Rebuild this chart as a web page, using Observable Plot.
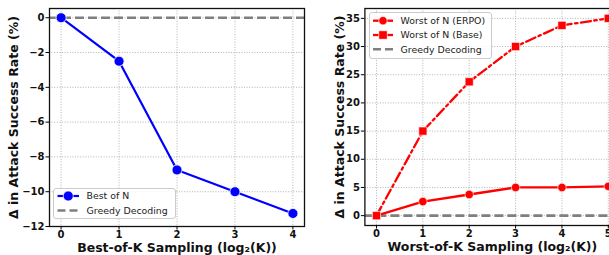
<!DOCTYPE html>
<html>
<head>
<meta charset="utf-8">
<script src="https://cdn.jsdelivr.net/npm/d3@7"></script>
<script src="https://cdn.jsdelivr.net/npm/@observablehq/plot@0.6"></script>
<style>
  html, body { margin: 0; padding: 0; background: #fff; overflow: hidden; }
  #wrap { position: relative; width: 609px; height: 255px; overflow: hidden; font-family: "DejaVu Sans", sans-serif; }
  #wrap > * { position: absolute; top: 0; }
</style>
</head>
<body>
<div id="wrap"></div>
<script>
// ---- data ----
const bestK = [0, 1, 2, 3, 4];
const bestOfN = [0, -2.5, -8.75, -10, -11.25];
const worstK = [0, 1, 2, 3, 4, 5];
const worstERPO = [0, 2.5, 3.75, 5, 5, 5.2];
const worstBase = [0, 15, 23.75, 30, 33.75, 35];
const greedy = 0;
const leftTicksY = [0, -2, -4, -6, -8, -10, -12];
const rightTicksY = [0, 5, 10, 15, 20, 25, 30, 35];
const yLabel = "Δ in Attack Success Rate (%)";
const leftXLabel = "Best-of-K Sampling (log₂(K))";
const rightXLabel = "Worst-of-K Sampling (log₂(K))";
const leftLegend = ["Best of N", "Greedy Decoding"];
const rightLegend = ["Worst of N (ERPO)", "Worst of N (Base)", "Greedy Decoding"];

const BLUE = "#0000ff", RED = "#ff0000", GRAY = "#7f7f7f";
const fmt = d3.format("d");
const wrap = document.getElementById("wrap");

function gridMarks(xt, yt) {
  return [
    Plot.gridX(xt, {stroke: "#a0a0a0", strokeOpacity: 1, strokeWidth: 0.8, strokeDasharray: "1,1.6"}),
    Plot.gridY(yt, {stroke: "#a0a0a0", strokeOpacity: 1, strokeWidth: 0.8, strokeDasharray: "1,1.6"})
  ];
}
function axes(xt, yt) {
  return [
    Plot.axisX(xt, {tickSize: 3.5, tickPadding: 1, fontSize: 10, fontWeight: "bold", fill: "#111", tickFormat: fmt, label: null}),
    Plot.axisY(yt, {tickSize: 3.5, tickPadding: 1.5, fontSize: 10, fontWeight: "bold", fill: "#111", tickFormat: fmt, label: null})
  ];
}
function labels(xl, yl, ydx) {
  return [
    Plot.text([xl], {frameAnchor: "bottom", dy: 21, text: d => d, fontSize: 12.5, fontWeight: "bold", fill: "#111", textAnchor: "middle", lineAnchor: "middle"}),
    Plot.text([yl], {frameAnchor: "left", dx: ydx, rotate: -90, text: d => d, fontSize: 12.5, fontWeight: "bold", fill: "#111", textAnchor: "middle", lineAnchor: "middle"})
  ];
}

// ---- left panel ----
const leftData = bestK.map((k, i) => ({k, v: bestOfN[i]}));
const left = Plot.plot({
  width: 310, height: 255,
  marginLeft: 49, marginRight: 6, marginTop: 8, marginBottom: 29,
  style: {fontFamily: "DejaVu Sans, sans-serif", background: "transparent", overflow: "visible"},
  x: {domain: [-0.2, 4.2]},
  y: {domain: [-12, 0.53]},
  marks: [
    ...gridMarks(bestK, leftTicksY),
    Plot.ruleY([greedy], {stroke: GRAY, strokeWidth: 2.6, strokeDasharray: "9,4"}),
    Plot.line(leftData, {x: "k", y: "v", stroke: BLUE, strokeWidth: 2.2}),
    Plot.dot(leftData, {x: "k", y: "v", r: 5, fill: BLUE, stroke: "white", strokeWidth: 0.8, symbol: "circle"}),
    Plot.frame({stroke: "#111", strokeWidth: 1.3}),
    ...axes(bestK, leftTicksY),
    ...labels(leftXLabel, yLabel, -36)
  ]
});
left.style.left = "0px";
wrap.appendChild(left);

// ---- right panel ----
const erpoData = worstK.map((k, i) => ({k, v: worstERPO[i]}));
const baseData = worstK.map((k, i) => ({k, v: worstBase[i]}));
const right = Plot.plot({
  width: 320, height: 255,
  marginLeft: 59.4, marginRight: 5.6, marginTop: 8, marginBottom: 30,
  style: {fontFamily: "DejaVu Sans, sans-serif", background: "transparent", overflow: "visible"},
  x: {domain: [-0.25, 5.25]},
  y: {domain: [-1.75, 36.75]},
  marks: [
    ...gridMarks(worstK, rightTicksY),
    Plot.ruleY([greedy], {stroke: GRAY, strokeWidth: 2.6, strokeDasharray: "9,4"}),
    Plot.line(erpoData, {x: "k", y: "v", stroke: RED, strokeWidth: 2.3}),
    Plot.line(baseData, {x: "k", y: "v", stroke: RED, strokeWidth: 2.3, strokeDasharray: "10,3.5,2.5,3.5"}),
    Plot.dot(erpoData, {x: "k", y: "v", r: 4.2, fill: RED, stroke: "white", strokeWidth: 0.6, symbol: "circle"}),
    Plot.dot(baseData, {x: "k", y: "v", r: 4.6, fill: RED, stroke: "white", strokeWidth: 0.6, symbol: "square"}),
    Plot.frame({stroke: "#111", strokeWidth: 1.3}),
    ...axes(worstK, rightTicksY),
    ...labels(rightXLabel, yLabel, -25)
  ]
});
right.style.left = "305px";
wrap.appendChild(right);

// ---- legends (overlays) ----
function legend(x, y, w, h, entries) {
  const svg = d3.create("svg").attr("width", w + 2).attr("height", h + 2)
    .style("position", "absolute").style("left", x + "px").style("top", y + "px")
    .style("font-family", "DejaVu Sans, sans-serif");
  svg.append("rect").attr("x", 0.5).attr("y", 0.5).attr("width", w).attr("height", h)
    .attr("rx", 2.5).attr("fill", "white").attr("fill-opacity", 0.85)
    .attr("stroke", "#cccccc").attr("stroke-width", 1);
  entries.forEach(e => {
    const g = svg.append("g").attr("transform", `translate(0,${e.cy})`);
    g.append("line").attr("x1", e.lx1).attr("x2", e.lx2).attr("y1", 0).attr("y2", 0)
      .attr("stroke", e.color).attr("stroke-width", e.sw).attr("stroke-dasharray", e.dash || null);
    const mx = (e.lx1 + e.lx2) / 2;
    if (e.marker === "circle") g.append("circle").attr("cx", mx).attr("cy", 0).attr("r", e.r).attr("fill", e.color).attr("stroke", "white").attr("stroke-width", 0.7);
    if (e.marker === "square") g.append("rect").attr("x", mx - e.r).attr("y", -e.r).attr("width", 2 * e.r).attr("height", 2 * e.r).attr("fill", e.color).attr("stroke", "white").attr("stroke-width", 0.7);
    g.append("text").attr("x", e.tx).attr("y", 0).attr("dy", "0.35em").attr("font-size", 9.4).attr("fill", "#222").text(e.label);
  });
  wrap.appendChild(svg.node());
}
legend(53, 188, 122, 30, [
  {cy: 8, lx1: 4.5, lx2: 26, color: BLUE, sw: 2.2, marker: "circle", r: 5, tx: 33.5, label: leftLegend[0]},
  {cy: 22.5, lx1: 4.5, lx2: 26, color: GRAY, sw: 2.6, dash: "8,4", tx: 33.5, label: leftLegend[1]}
]);
legend(369, 12, 122, 46, [
  {cy: 8.7, lx1: 4, lx2: 24, color: RED, sw: 2.3, marker: "circle", r: 4.2, tx: 31.5, label: rightLegend[0]},
  {cy: 23, lx1: 4, lx2: 24, color: RED, sw: 2.3, marker: "square", r: 4.2, tx: 31.5, label: rightLegend[1]},
  {cy: 37.3, lx1: 4, lx2: 24, color: GRAY, sw: 2.6, dash: "8,4", tx: 31.5, label: rightLegend[2]}
]);
</script>
</body>
</html>
